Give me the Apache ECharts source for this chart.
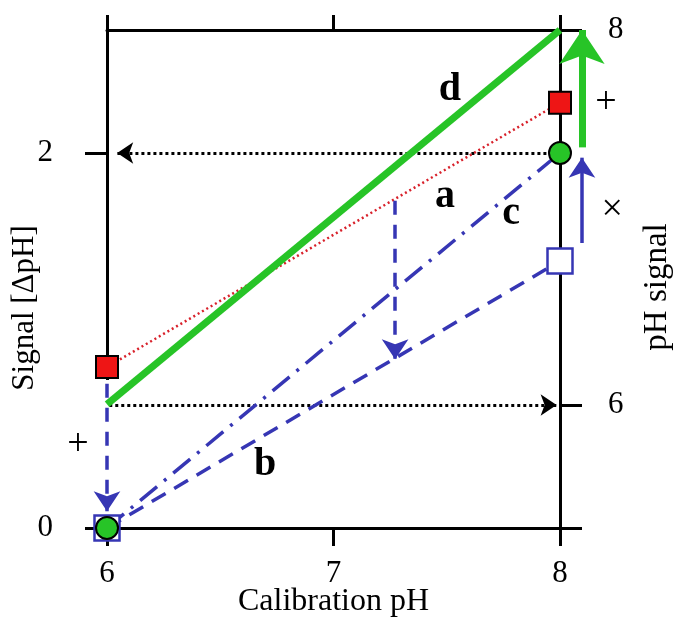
<!DOCTYPE html>
<html>
<head>
<meta charset="utf-8">
<script src="https://cdn.jsdelivr.net/npm/echarts@6/dist/echarts.min.js"></script>
<style>html,body{margin:0;padding:0;background:#fff}#c{width:674px;height:619px}</style>
</head>
<body>
<div id="c"></div>
<script>
// ---- data ----
const xTickValues = [6, 7, 8];
const leftTickValues = [0, 2];
const rightTickValues = [6, 8];
const xRange = [6, 8];
const leftRange = [0, 2.656];
const rightRange = [5.344, 8];

const lineD = [[6, 0.66], [8, 2.656]];
const lineA = [[6, 0.859], [8, 2.268]];
const lineC = [[6, 0], [8, 2]];
const lineB = [[6, 0], [8, 1.424]];

const redSquares = [[6, 0.859], [8, 2.268]];
const greenCircles = [[6, 0], [8, 2]];
const openSquares = [[6, 0], [8, 1.424]];

const dottedArrows = [[[7.94, 2], [6.045, 2]], [[6.01, 0.656], [7.985, 0.656]]];
const dashedArrows = [[[7.272, 1.745], [7.272, 0.9]], [[6, 0.77], [6, 0.09]]];
const blueArrow = [[8.097, 1.52], [8.097, 1.975]];
const greenArrow = [[8.097, 2.03], [8.097, 2.656]];
const leftLineGap = [[6, 0.79], [6, 0.07]];

const letters = [[7.514, 2.336, 'd'], [7.492, 1.765, 'a'], [7.784, 1.675, 'c'], [6.698, 0.336, 'b']];
const signs = [[5.872, 0.443, '+'], [8.203, 2.267, '+'], [8.23, 1.696, '×']];

const xName = 'Calibration pH';
const leftName = 'Signal [ΔpH]';
const rightName = 'pH signal';

// ---- chart ----
const FONT = '"Liberation Serif", "DejaVu Serif", serif';
const BLACK = '#000';
const BLUE = '#3636b4';
const GREEN = '#27c427';
const RED = '#ee1515';
const axisLineStyle = { color: BLACK, width: 3 };
const tickLine = { color: BLACK, width: 3 };

const chart = echarts.init(document.getElementById('c'), null, { renderer: 'canvas' });

function lineSeries(data, color, width, type, z) {
  return {
    type: 'line', data: data, xAxisIndex: 0, yAxisIndex: 0, showSymbol: false, symbol: 'none',
    lineStyle: { color: color, width: width, type: type, opacity: 1 }, z: z, silent: true, animation: false, clip: false
  };
}
function arrowSeries(list, color, width, type, size, z) {
  return {
    type: 'lines', coordinateSystem: 'cartesian2d', xAxisIndex: 0, yAxisIndex: 0,
    symbol: ['none', 'arrow'], symbolSize: size, clip: false,
    lineStyle: { color: color, width: width, type: type, opacity: 1, curveness: 0 },
    data: list.map(c => ({ coords: c })), z: z, silent: true, animation: false
  };
}

const option = {
  backgroundColor: '#fff',
  animation: false,
  grid: { left: 107, right: 114, top: 30, bottom: 91, containLabel: false, outerBoundsMode: 'none' },
  xAxis: [
    {
      type: 'value', position: 'bottom', min: xRange[0], max: xRange[1],
      name: xName, nameLocation: 'middle', nameGap: 58, nameMoveOverlap: false,
      nameTextStyle: { fontFamily: FONT, fontSize: 32, color: BLACK },
      axisLine: { show: true, lineStyle: axisLineStyle },
      axisTick: { show: true, length: 18, lineStyle: tickLine, customValues: xTickValues },
      axisLabel: { show: true, customValues: xTickValues, margin: 30, fontFamily: FONT, fontSize: 31, color: BLACK },
      splitLine: { show: false }
    },
    {
      type: 'value', position: 'top', min: xRange[0], max: xRange[1],
      axisLine: { show: true, lineStyle: axisLineStyle },
      axisTick: { show: true, length: 15, lineStyle: tickLine, customValues: xTickValues },
      axisLabel: { show: false },
      splitLine: { show: false }
    }
  ],
  yAxis: [
    {
      type: 'value', position: 'left', min: leftRange[0], max: leftRange[1],
      name: leftName, nameLocation: 'middle', nameGap: 67, nameRotate: 90, nameMoveOverlap: false,
      nameTextStyle: { fontFamily: FONT, fontSize: 31, color: BLACK, padding: [0, 58, 0, 0] },
      axisLine: { show: true, lineStyle: axisLineStyle },
      axisTick: { show: true, length: 22, lineStyle: tickLine, customValues: leftTickValues },
      axisLabel: { show: true, customValues: leftTickValues, margin: 54, fontFamily: FONT, fontSize: 31, color: BLACK },
      splitLine: { show: false }
    },
    {
      type: 'value', position: 'right', min: rightRange[0], max: rightRange[1],
      name: rightName, nameLocation: 'middle', nameGap: 81, nameRotate: 90, nameMoveOverlap: false,
      nameTextStyle: { fontFamily: FONT, fontSize: 33, color: BLACK, padding: [0, 16, 0, 0] },
      axisLine: { show: true, lineStyle: axisLineStyle },
      axisTick: { show: true, length: 22, lineStyle: tickLine, customValues: [rightRange[0]].concat(rightTickValues) },
      axisLabel: { show: true, customValues: rightTickValues, margin: 48, fontFamily: FONT, fontSize: 31, color: BLACK },
      splitLine: { show: false }
    }
  ],
  series: [
    lineSeries(leftLineGap, '#fff', 5, 'solid', 2),
    arrowSeries(dottedArrows, BLACK, 3, [3, 3], 16, 3),
    lineSeries(lineB, BLUE, 3.5, [16, 10], 4),
    lineSeries(lineC, BLUE, 3.5, [22, 9, 3, 9], 4),
    lineSeries(lineA, '#d8202a', 2.5, [2, 3], 4),
    lineSeries(lineD, GREEN, 7, 'solid', 5),
    arrowSeries(dashedArrows, BLUE, 3.5, [14, 10], 20, 6),
    arrowSeries([blueArrow], BLUE, 3.5, 'solid', 20, 6),
    arrowSeries([greenArrow], GREEN, 7, 'solid', 34, 6),
    {
      type: 'scatter', data: openSquares, symbol: 'rect', symbolSize: 25, clip: false,
      itemStyle: { color: '#fff', borderColor: BLUE, borderWidth: 2.5, opacity: 1 }, z: 7, silent: true
    },
    {
      type: 'scatter', data: redSquares, symbol: 'rect', symbolSize: 22, clip: false,
      itemStyle: { color: RED, borderColor: BLACK, borderWidth: 2, opacity: 1 }, z: 8, silent: true
    },
    {
      type: 'scatter', data: greenCircles, symbol: 'circle', symbolSize: 22, clip: false,
      itemStyle: { color: GREEN, borderColor: BLACK, borderWidth: 2, opacity: 1 }, z: 9, silent: true
    },
    {
      type: 'scatter', data: letters, symbolSize: 0, silent: true, z: 10, clip: false,
      itemStyle: { opacity: 1 },
      label: { show: true, position: 'inside', formatter: p => p.value[2], fontFamily: FONT, fontWeight: 'bold', fontSize: 40, color: BLACK }
    },
    {
      type: 'scatter', data: signs, symbolSize: 0, silent: true, z: 10, clip: false,
      itemStyle: { opacity: 1 },
      label: { show: true, position: 'inside', formatter: p => p.value[2], fontFamily: FONT, fontSize: 38, color: BLACK }
    }
  ]
};
chart.setOption(option);
</script>
</body>
</html>
